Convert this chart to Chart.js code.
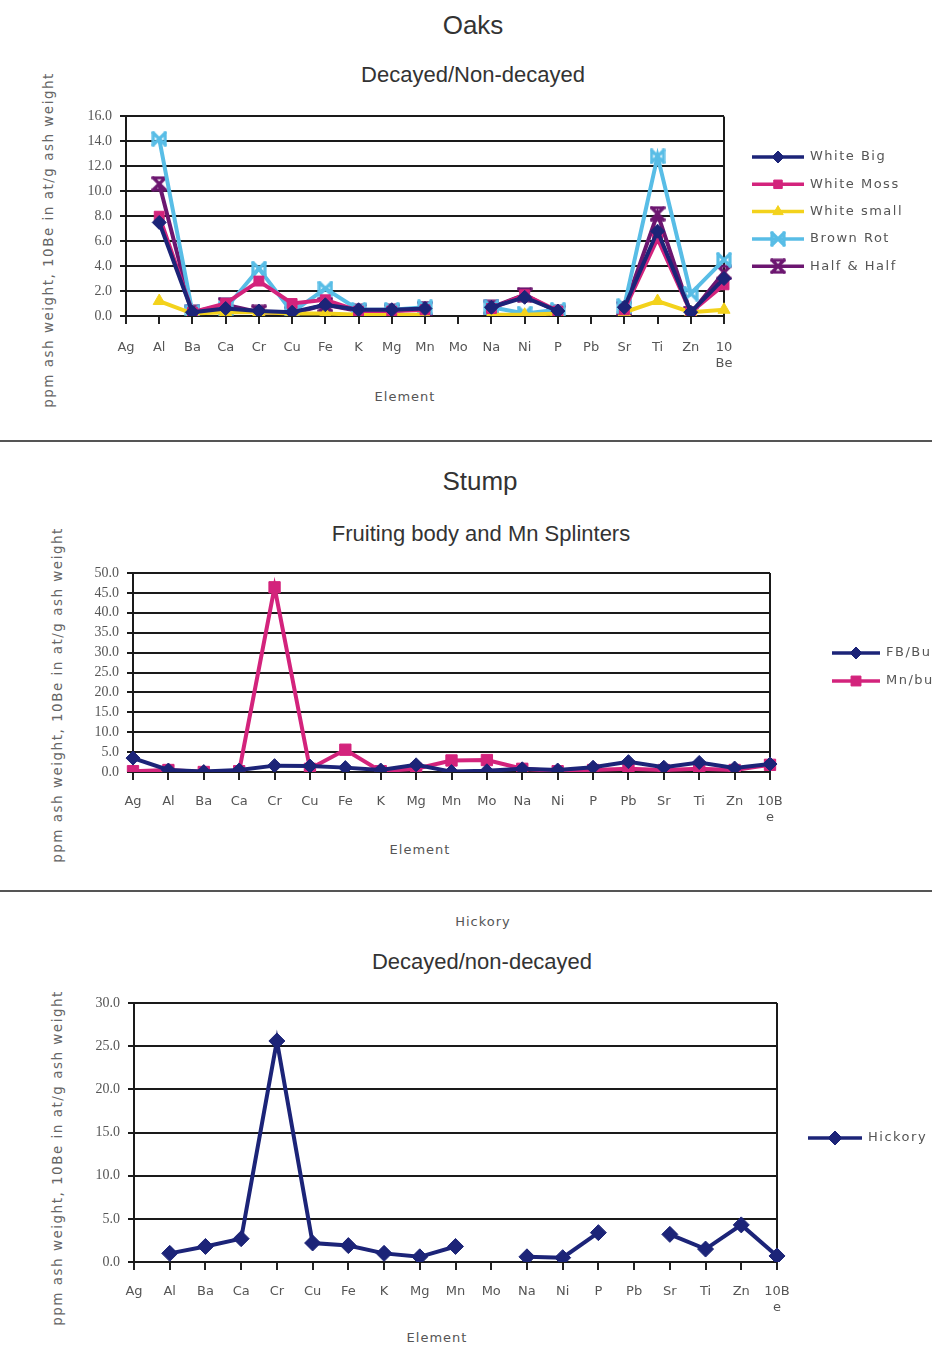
<!DOCTYPE html>
<html>
<head>
<meta charset="utf-8">
<script src="https://cdn.jsdelivr.net/npm/chart.js@4.4.0/dist/chart.umd.min.js"></script>
<style>
body{margin:0;width:932px;height:1346px;background:#fff;position:relative;overflow:hidden;font-family:"Liberation Sans",Arial,sans-serif;color:#333}
canvas{position:absolute;left:0}
.t{position:absolute;transform:translate(-50%,-50%);white-space:nowrap}
.yt{position:absolute;transform:translate(-50%,-50%) rotate(-90deg);white-space:nowrap;font-size:13.5px;letter-spacing:1.5px;color:#666;font-family:"DejaVu Sans",sans-serif}
.el{font-size:13px;color:#555;letter-spacing:1px;font-family:"DejaVu Sans",sans-serif}
.rule{position:absolute;left:0;width:932px;height:2px;background:#555}
</style>
</head>
<body>
<div class="t" style="left:473px;top:25px;font-size:26px">Oaks</div>
<div class="t" style="left:473px;top:75px;font-size:22px">Decayed/Non-decayed</div>
<div class="yt" style="left:48px;top:240px">ppm ash weight, 10Be in at/g ash weight</div>
<div class="t el" style="left:405px;top:396px">Element</div>
<div class="rule" style="top:440px"></div>

<div class="t" style="left:480px;top:481px;font-size:26px">Stump</div>
<div class="t" style="left:481px;top:534px;font-size:22px">Fruiting body and Mn Splinters</div>
<div class="yt" style="left:57px;top:695px">ppm ash weight, 10Be in at/g ash weight</div>
<div class="t el" style="left:420px;top:849px">Element</div>
<div class="rule" style="top:890px"></div>

<div class="t el" style="left:483px;top:921px">Hickory</div>
<div class="t" style="left:482px;top:962px;font-size:22px">Decayed/non-decayed</div>
<div class="yt" style="left:57px;top:1158px">ppm ash weight, 10Be in at/g ash weight</div>
<div class="t el" style="left:437px;top:1337px">Element</div>

<canvas id="oaks" width="932" height="330" style="top:100px"></canvas>
<canvas id="stump" width="932" height="320" style="top:555px"></canvas>
<canvas id="hickory" width="932" height="340" style="top:985px"></canvas>

<script>
// data
const elementsOaks = ['Ag','Al','Ba','Ca','Cr','Cu','Fe','K','Mg','Mn','Mo','Na','Ni','P','Pb','Sr','Ti','Zn',['10','Be']];
const elementsStump = ['Ag','Al','Ba','Ca','Cr','Cu','Fe','K','Mg','Mn','Mo','Na','Ni','P','Pb','Sr','Ti','Zn',['10B','e']];
const elementsHickory = ['Ag','Al','Ba','Ca','Cr','Cu','Fe','K','Mg','Mn','Mo','Na','Ni','P','Pb','Sr','Ti','Zn',['10B','e']];

const whiteBig   = [null, 7.5, 0.3, 0.6, 0.4, 0.3, 0.9, 0.5, 0.5, 0.6, null, 0.7, 1.5, 0.4, null, 0.7, 6.8, 0.3, 3.0];
const whiteMoss  = [null, 8.0, 0.3, 1.0, 2.8, 1.0, 1.3, 0.4, 0.4, 0.5, null, 0.6, 1.7, 0.4, null, 0.5, 6.2, 0.3, 2.5];
const whiteSmall = [null, 1.2, 0.2, 0.3, 0.3, 0.2, 0.2, 0.1, 0.1, 0.1, null, 0.1, 0.1, 0.2, null, 0.3, 1.2, 0.3, 0.5];
const brownRot   = [null, 14.2, 0.3, 0.6, 3.8, 0.3, 2.2, 0.5, 0.5, 0.7, null, 0.7, 0.2, 0.5, null, 0.8, 12.8, 1.8, 4.5];
const halfHalf   = [null, 10.6, 0.3, 0.9, 0.3, 0.2, 0.9, 0.4, 0.4, 0.6, null, 0.7, 1.7, 0.3, null, 0.6, 8.2, 0.2, 3.5];

const fbBulk = [3.5, 0.5, 0.1, 0.5, 1.6, 1.5, 1.1, 0.5, 1.8, 0.1, 0.3, 0.8, 0.5, 1.2, 2.6, 1.2, 2.4, 1.0, 2.0];
const mnBulk = [0.2, 0.5, 0.0, 0.2, 46.4, 0.8, 5.6, 0.2, 0.8, 2.9, 3.0, 0.8, 0.2, 0.5, 0.8, 0.5, 0.8, 0.5, 1.8];

const hickory = [null, 1.0, 1.8, 2.7, 25.6, 2.2, 1.9, 1.0, 0.6, 1.8, null, 0.6, 0.5, 3.4, null, 3.2, 1.5, 4.3, 0.7];

const oaksTicks = {min: 0, max: 16, step: 2};
const stumpTicks = {min: 0, max: 50, step: 5};
const hickoryTicks = {min: 0, max: 30, step: 5};

// custom markers
function marker(color, kind) {
    const c = document.createElement('canvas');
    c.width = 16; c.height = 16;
    const g = c.getContext('2d');
    g.strokeStyle = color; g.lineWidth = 3.2; g.lineCap = 'square';
    g.beginPath();
    g.moveTo(2, 2); g.lineTo(14, 14);
    g.moveTo(14, 2); g.lineTo(2, 14);
    if (kind === 'hour') { g.moveTo(2, 2); g.lineTo(14, 2); g.moveTo(2, 14); g.lineTo(14, 14); }
    else { g.moveTo(2, 2); g.lineTo(2, 14); g.moveTo(14, 2); g.lineTo(14, 14); }
    g.stroke();
    return c;
}

const NAVY = '#1c2478', PINK = '#d3237c', YELLOW = '#f3d21c', SKY = '#58bde6', PURPLE = '#6c1670';

const rightEdge = {
    id: 'rightEdge',
    beforeDatasetsDraw(chart) {
        const a = chart.chartArea, ctx = chart.ctx;
        ctx.save();
        ctx.strokeStyle = '#1a1a1a'; ctx.lineWidth = 2;
        ctx.beginPath(); ctx.moveTo(a.right, a.top); ctx.lineTo(a.right, a.bottom); ctx.stroke();
        ctx.restore();
    }
};

const sideLegend = {
    id: 'sideLegend',
    afterDraw(chart, args, o) {
        const ctx = chart.ctx;
        chart.data.datasets.forEach((ds, i) => {
            const y = o.y + i * o.gap;
            ctx.save();
            ctx.strokeStyle = ds.borderColor; ctx.lineWidth = 3.5;
            ctx.beginPath(); ctx.moveTo(o.x, y); ctx.lineTo(o.x + o.len, y); ctx.stroke();
            ctx.fillStyle = ds.pointBackgroundColor; ctx.strokeStyle = ds.borderColor; ctx.lineWidth = 1;
            Chart.helpers.drawPoint(ctx, {pointStyle: ds.pointStyle, radius: ds.pointRadius - 1, borderWidth: 1, rotation: 0}, o.x + o.len / 2, y);
            ctx.fillStyle = '#555'; ctx.font = '13px "DejaVu Sans"'; ctx.textBaseline = 'middle';
            ctx.letterSpacing = '1.5px';
            ctx.fillText(ds.label, o.x + o.len + 6, y);
            ctx.restore();
        });
    }
};

function line(label, data, color, style, r) {
    return {
        label, data,
        borderColor: color, backgroundColor: color, pointBackgroundColor: color, pointBorderColor: color,
        borderWidth: 4, pointStyle: style, pointRadius: r, pointBorderWidth: 1,
        spanGaps: false, tension: 0
    };
}

function makeChart(id, labels, datasets, t, box, legend) {
    const cv = document.getElementById(id);
    return new Chart(cv, {
        type: 'line',
        data: {labels, datasets},
        options: {
            responsive: false, animation: false, devicePixelRatio: 1,
            layout: {padding: {left: 0, top: box.top, right: 932 - box.right, bottom: 0}},
            plugins: {legend: {display: false}, tooltip: {enabled: false}, sideLegend: legend},
            scales: {
                x: {
                    offset: false,
                    grid: {drawOnChartArea: false, drawTicks: true, tickLength: 8, color: '#222', lineWidth: 2},
                    border: {display: true, color: '#1a1a1a', width: 2},
                    ticks: {autoSkip: false, maxRotation: 0, padding: box.xpad, color: '#555', font: {family: 'DejaVu Sans', size: 13}},
                    afterFit: s => { s.height = cv.height - box.bottom; }
                },
                y: {
                    min: t.min, max: t.max,
                    grid: {color: '#1a1a1a', lineWidth: 2, tickLength: 6},
                    border: {display: true, color: '#1a1a1a', width: 2},
                    ticks: {stepSize: t.step, autoSkip: false, padding: 8, color: '#555', font: {family: 'Liberation Serif', size: 14},
                        callback: v => v.toFixed(1)},
                    afterFit: s => { s.width = box.left; }
                }
            }
        },
        plugins: [rightEdge, sideLegend]
    });
}

makeChart('oaks', elementsOaks, [
    line('White Big', whiteBig, NAVY, 'rectRot', 7),
    line('White Moss', whiteMoss, PINK, 'rect', 7),
    line('White small', whiteSmall, YELLOW, 'triangle', 7),
    line('Brown Rot', brownRot, SKY, marker(SKY, 'bow'), 8),
    line('Half & Half', halfHalf, PURPLE, marker(PURPLE, 'hour'), 8)
], oaksTicks, {left: 126, right: 724, top: 16, bottom: 216, xpad: 16}, {x: 752, len: 52, y: 57, gap: 27.3});

makeChart('stump', elementsStump, [
    line('FB/Bulk', fbBulk, NAVY, 'rectRot', 7),
    line('Mn/bulk', mnBulk, PINK, 'rect', 8)
], stumpTicks, {left: 133, right: 770, top: 18, bottom: 217, xpad: 14}, {x: 832, len: 48, y: 98, gap: 28});

makeChart('hickory', elementsHickory, [
    line('Hickory', hickory, NAVY, 'rectRot', 8)
], hickoryTicks, {left: 134, right: 777, top: 18, bottom: 277, xpad: 14}, {x: 808, len: 54, y: 153, gap: 28});
</script>
</body>
</html>
